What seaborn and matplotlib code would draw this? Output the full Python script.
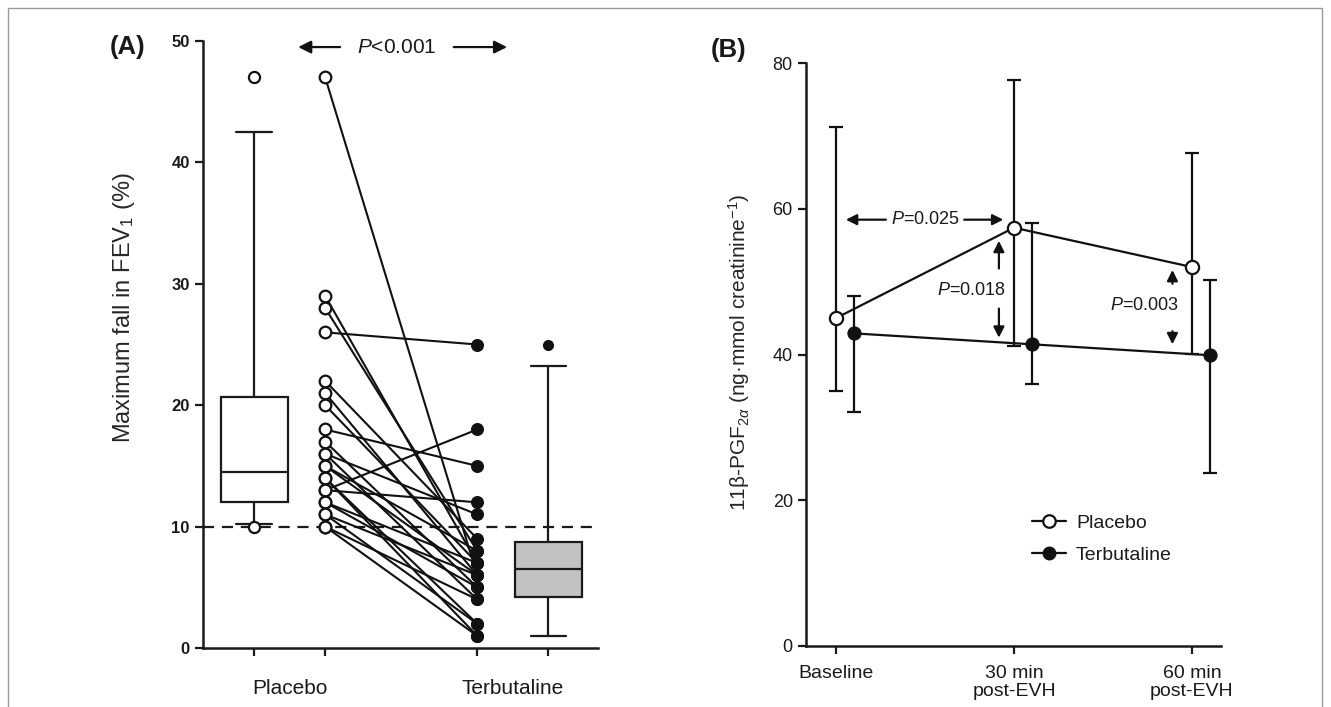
import numpy as np
import pandas as pd
import matplotlib
matplotlib.use("Agg")
import matplotlib.pyplot as plt
import seaborn as sns
from matplotlib.patches import Rectangle
from matplotlib.lines import Line2D

# ---------------- data ----------------
# Panel A: paired individual values (maximum fall in FEV1, %)
placebo_pts = [47, 29, 28, 26, 22, 21, 20, 18, 17, 16, 16, 15, 15, 14, 14, 13, 13, 12, 12, 11, 11, 10, 10]
terbut_pts  = [6, 7, 8, 25, 9, 6, 7, 15, 5, 4, 11, 6, 8, 2, 1, 18, 12, 7, 5, 6, 2, 1, 4]

# Panel A: box summaries
placebo_box = dict(whislo=10.2, q1=12.0, med=14.5, q3=20.7, whishi=42.5, fliers=[47, 10])
terbut_box  = dict(whislo=1.0, q1=4.2, med=6.5, q3=8.7, whishi=23.2, fliers=[25])
groups_A = ["Placebo", "Terbutaline"]
p_text_A = "<0.001"

# Panel B: 11β-PGF2α (mean and error)
timepoints = ["Baseline", "30 min\npost-EVH", "60 min\npost-EVH"]
placebo_mean = [45.0, 57.4, 52.0]
placebo_hi   = [71.2, 77.6, 67.6]
placebo_lo   = [35.0, 41.2, 40.1]
terbut_mean  = [42.9, 41.4, 39.9]
terbut_hi    = [48.0, 58.1, 50.2]
terbut_lo    = [32.1, 36.0, 23.7]
p_values_B = ["0.025", "0.018", "0.003"]

# ---------------- style ----------------
sns.set_style("ticks")
plt.rcParams["font.family"] = ["Liberation Sans", "DejaVu Sans"]
plt.rcParams["mathtext.fontset"] = "custom"
plt.rcParams["mathtext.rm"] = "Liberation Sans"
plt.rcParams["mathtext.it"] = "Liberation Sans:italic"
plt.rcParams["mathtext.bf"] = "Liberation Sans:bold"
plt.rcParams["axes.linewidth"] = 1.8
plt.rcParams["xtick.major.width"] = 1.6
plt.rcParams["ytick.major.width"] = 1.6
plt.rcParams["xtick.major.size"] = 6
plt.rcParams["ytick.major.size"] = 6
plt.rcParams["xtick.color"] = "#1a1a1a"
plt.rcParams["ytick.color"] = "#1a1a1a"
plt.rcParams["axes.edgecolor"] = "#1a1a1a"
plt.rcParams["text.color"] = "#1a1a1a"

W, H = 1331, 707
fig = plt.figure(figsize=(W / 100, H / 100), dpi=100)

def fx(px):
    return px / W

def fy(py):
    return 1 - py / H

# figure frame
fig.patches.append(Rectangle((fx(8), fy(712)), fx(1322) - fx(8), fy(8) - fy(712),
                             transform=fig.transFigure, fill=False, ec="#9a9a9a", lw=1.0))

# ---------------- Panel A ----------------
axA = fig.add_axes([fx(203), fy(648), fx(598) - fx(203), fy(41) - fy(648)])
pos_box_pl, pos_pts_pl, pos_pts_tb, pos_box_tb = 0.0, 1.0, 3.14, 4.14

dfA = pd.DataFrame({
    "subject": list(range(len(placebo_pts))) * 2,
    "x": [pos_pts_pl] * len(placebo_pts) + [pos_pts_tb] * len(terbut_pts),
    "value": placebo_pts + terbut_pts,
    "group": ["Placebo"] * len(placebo_pts) + ["Terbutaline"] * len(terbut_pts),
})

axA.axhline(10, color="#1a1a1a", lw=1.6, dashes=(5, 3.5), zorder=1)

sns.lineplot(data=dfA, x="x", y="value", units="subject", estimator=None,
             color="#111111", lw=1.5, ax=axA, legend=False, zorder=2)
sns.scatterplot(data=dfA[dfA.group == "Placebo"], x="x", y="value", ax=axA,
                marker="o", s=70, facecolor="white", edgecolor="#111111",
                linewidth=1.6, zorder=3, legend=False)
sns.scatterplot(data=dfA[dfA.group == "Terbutaline"], x="x", y="value", ax=axA,
                marker="o", s=70, color="#111111", edgecolor="#111111",
                linewidth=1.0, zorder=3, legend=False)

common = dict(widths=0.94, capwidths=0.5, patch_artist=True, manage_ticks=False,
              whiskerprops=dict(color="#1a1a1a", lw=1.6),
              capprops=dict(color="#1a1a1a", lw=1.6),
              medianprops=dict(color="#1a1a1a", lw=1.6))
axA.bxp([placebo_box], positions=[pos_box_pl],
        boxprops=dict(facecolor="white", edgecolor="#1a1a1a", lw=1.6),
        flierprops=dict(marker="o", markerfacecolor="white", markeredgecolor="#111111",
                        markersize=8, markeredgewidth=1.6), **common)
axA.bxp([terbut_box], positions=[pos_box_tb],
        boxprops=dict(facecolor="#c2c2c2", edgecolor="#1a1a1a", lw=1.6),
        flierprops=dict(marker="o", markerfacecolor="#111111", markeredgecolor="#111111",
                        markersize=7), **common)

axA.set_xlim(-0.72, 4.84)
axA.set_ylim(0, 50)
axA.set_yticks([0, 10, 20, 30, 40, 50])
axA.set_yticklabels(["0", "10", "20", "30", "40", "50"], fontsize=12, fontweight="bold")
axA.set_xticks([pos_box_pl, pos_pts_pl, pos_pts_tb, pos_box_tb])
axA.set_xticklabels([])
axA.set_xticks([(pos_box_pl + pos_pts_pl) / 2, (pos_pts_tb + pos_box_tb) / 2], minor=True)
axA.set_xticklabels(groups_A, minor=True, fontsize=15)
axA.tick_params(axis="x", which="minor", length=0, pad=22)
axA.set_xlabel("")
axA.set_ylabel("Maximum fall in FEV$_1$ (%)", fontsize=17)
axA.yaxis.set_label_coords(-0.167, 0.56)
sns.despine(ax=axA)

# P<0.001 annotation
axA.text(2.01, 49.5, r"$\it{P}$" + p_text_A, ha="center", va="center", fontsize=15)
arrow = dict(arrowstyle="-|>", color="#111111", lw=1.6, mutation_scale=19, shrinkA=0, shrinkB=0)
axA.annotate("", xy=(0.62, 49.5), xytext=(1.21, 49.5), arrowprops=arrow, annotation_clip=False)
axA.annotate("", xy=(3.56, 49.5), xytext=(2.81, 49.5), arrowprops=arrow, annotation_clip=False)

fig.text(fx(128), fy(47), "(A)", fontsize=18.5, fontweight="bold", ha="center", va="center")

# ---------------- Panel B ----------------
axB = fig.add_axes([fx(806), fy(646), fx(1221) - fx(806), fy(63) - fy(646)])
xb = np.arange(len(timepoints), dtype=float)
off = 0.10
dfB = pd.DataFrame({
    "x": list(xb) + list(xb + off),
    "mean": placebo_mean + terbut_mean,
    "Treatment": ["Placebo"] * 3 + ["Terbutaline"] * 3,
})

axB.errorbar(xb, placebo_mean,
             yerr=[np.array(placebo_mean) - np.array(placebo_lo), np.array(placebo_hi) - np.array(placebo_mean)],
             fmt="none", ecolor="#111111", elinewidth=1.6, capsize=5, capthick=1.6, zorder=1)
axB.errorbar(xb + off, terbut_mean,
             yerr=[np.array(terbut_mean) - np.array(terbut_lo), np.array(terbut_hi) - np.array(terbut_mean)],
             fmt="none", ecolor="#111111", elinewidth=1.6, capsize=5, capthick=1.6, zorder=1)

sns.lineplot(data=dfB, x="x", y="mean", hue="Treatment", style="Treatment",
             palette={"Placebo": "#111111", "Terbutaline": "#111111"},
             markers={"Placebo": "o", "Terbutaline": "o"}, dashes=False,
             lw=1.6, markersize=9.5, ax=axB, zorder=3, legend=False)
for ln in axB.get_lines():
    xd = np.asarray(ln.get_xdata(), dtype=float)
    if len(xd) == 3 and np.allclose(xd, xb):
        ln.set_markerfacecolor("white")
        ln.set_markeredgecolor("#111111")
        ln.set_markeredgewidth(1.6)
    elif len(xd) == 3 and np.allclose(xd, xb + off):
        ln.set_markerfacecolor("#111111")
        ln.set_markeredgecolor("#111111")

axB.set_xlim(-0.169, 2.163)
axB.set_ylim(0, 80)
axB.set_yticks([0, 20, 40, 60, 80])
axB.set_yticklabels(["0", "20", "40", "60", "80"], fontsize=13)
axB.set_xticks(xb)
axB.set_xticklabels(timepoints, fontsize=14, linespacing=1.05)
axB.tick_params(axis="x", pad=8)
axB.set_xlabel("")
axB.set_ylabel("11β-PGF$_{2α}$ (ng·mmol creatinine$^{-1}$)", fontsize=15)
axB.yaxis.set_label_coords(-0.13, 0.504)
sns.despine(ax=axB)

# legend
handles = [Line2D([], [], color="#111111", lw=1.6, marker="o", markersize=9,
                  markerfacecolor="white", markeredgewidth=1.6),
           Line2D([], [], color="#111111", lw=1.6, marker="o", markersize=9,
                  markerfacecolor="#111111")]
axB.legend(handles, ["Placebo", "Terbutaline"], loc="center left",
           bbox_to_anchor=(0.545, 0.183), frameon=False, fontsize=14,
           borderaxespad=0, borderpad=0,
           handlelength=1.75, labelspacing=0.75, handletextpad=0.5)

# P annotations
arr = dict(arrowstyle="-|>", color="#111111", lw=1.6, mutation_scale=16, shrinkA=0, shrinkB=0)
axB.text(0.50, 58.5, r"$\it{P}$=" + p_values_B[0], ha="center", va="center", fontsize=13)
axB.annotate("", xy=(0.055, 58.5), xytext=(0.28, 58.5), arrowprops=arr)
axB.annotate("", xy=(0.94, 58.5), xytext=(0.72, 58.5), arrowprops=arr)

axB.text(0.76, 48.8, r"$\it{P}$=" + p_values_B[1], ha="center", va="center", fontsize=13)
axB.annotate("", xy=(0.915, 55.6), xytext=(0.915, 51.8), arrowprops=arr)
axB.annotate("", xy=(0.915, 42.3), xytext=(0.915, 46.3), arrowprops=arr)

axB.text(1.73, 46.7, r"$\it{P}$=" + p_values_B[2], ha="center", va="center", fontsize=13)
axB.annotate("", xy=(1.89, 51.6), xytext=(1.89, 49.7), arrowprops=arr)
axB.annotate("", xy=(1.89, 41.4), xytext=(1.89, 43.2), arrowprops=arr)

fig.text(fx(729), fy(50), "(B)", fontsize=18.5, fontweight="bold", ha="center", va="center")

fig.savefig("out.png", dpi=100)
